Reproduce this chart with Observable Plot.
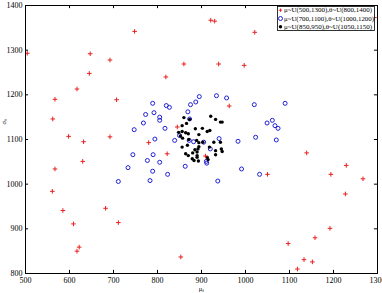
<!DOCTYPE html>
<html><head><meta charset="utf-8">
<script src="https://cdn.jsdelivr.net/npm/d3@7"></script>
<script src="https://cdn.jsdelivr.net/npm/@observablehq/plot@0.6"></script>
<style>
body{margin:0;background:#fff}
#wrap{position:relative;width:382px;height:293px;font-family:"Liberation Serif",serif}
#legend{position:absolute;left:277px;top:6px}
</style>
</head><body><div id="wrap"></div>
<script>
const xTicks = [500, 600, 700, 800, 900, 1000, 1100, 1200, 1300];
const yTicks = [800, 900, 1000, 1100, 1200, 1300, 1400];
const xLabel = "μₛ";
const yLabel = "σₛ";
const legendLabels = ["μ~U(500,1300),θ~U(800,1400)", "μ~U(700,1100),θ~U(1000,1200)", "μ~U(850,950),θ~U(1050,1150)"];

const seriesRed = [[504,1293],[748,1342],[647,1292],[692,1278],[645,1248],[617,1213],[567,1190],[707,1189],[562,1146],[598,1107],[692,1106],[632,1095],[630,1051],[567,1034],[561,984],[585,941],[682,946],[609,911],[711,914],[622,859],[617,850],[921,1367],[930,1365],[1021,1340],[860,1269],[939,1269],[997,1266],[819,1240],[963,1175],[845,1128],[780,1093],[822,1068],[909,1063],[853,837],[1139,1070],[1229,1042],[1050,1022],[1194,1022],[1267,1012],[1227,978],[1192,901],[1158,880],[1097,867],[1133,831],[1152,826],[1118,810],[1293,1373]];

const seriesBlue = [[747,1122],[744,1066],[733,1037],[711,1006],[895,1196],[934,1198],[957,1193],[789,1181],[820,1176],[827,1172],[887,1184],[875,1178],[1020,1178],[869,1162],[773,1156],[792,1160],[805,1150],[805,1143],[768,1137],[873,1146],[817,1125],[794,1101],[839,1098],[872,1098],[940,1102],[983,1096],[1023,1105],[882,1095],[920,1079],[850,1109],[905,1094],[911,1051],[790,1066],[777,1053],[805,1049],[863,1040],[912,1047],[991,1034],[789,1029],[823,1022],[783,1008],[937,1007],[1032,1022],[1090,1181],[1061,1143],[1049,1137],[1067,1131],[1074,1125],[1070,1099]];

const seriesBlack = [[860,1149],[873,1145],[866,1136],[856,1131],[921,1152],[932,1145],[943,1139],[947,1139],[886,1124],[902,1125],[913,1118],[919,1120],[848,1116],[856,1118],[864,1115],[870,1113],[852,1108],[857,1103],[871,1100],[894,1111],[889,1098],[894,1093],[903,1094],[928,1094],[943,1094],[856,1083],[868,1087],[894,1084],[918,1083],[885,1077],[892,1079],[932,1075],[945,1079],[947,1073],[864,1068],[880,1070],[890,1072],[890,1064],[870,1064],[932,1066],[879,1057],[890,1060],[913,1060],[915,1055],[883,1053],[893,1052]];

const RED = "#e82020", BLUE = "#2020d8", BLACK = "#000";

const plot = Plot.plot({
  width: 382, height: 293,
  marginLeft: 25, marginRight: 5, marginTop: 5, marginBottom: 20,
  style: {fontFamily: "'Liberation Serif', serif", fontSize: "8px", background: "white", color: "black", overflow: "visible"},
  x: {domain: [500, 1300], label: null},
  y: {domain: [800, 1400], label: null},
  marks: [
    Plot.axisX(xTicks, {anchor: "bottom", tickSize: 0, tickPadding: 4, tickFormat: "d", label: null}),
    Plot.axisY(yTicks, {anchor: "left", tickSize: 0, tickPadding: 3, tickFormat: "d", label: null}),
    Plot.ruleX(xTicks, {x: d => d, y1: 800, y2: 807, stroke: "black"}),
    Plot.ruleX(xTicks, {x: d => d, y1: 1400, y2: 1393, stroke: "black"}),
    Plot.ruleY(yTicks, {y: d => d, x1: 500, x2: 507, stroke: "black"}),
    Plot.ruleY(yTicks, {y: d => d, x1: 1300, x2: 1293, stroke: "black"}),
    Plot.dot(seriesBlue, {x: d => d[0], y: d => d[1], r: 2, stroke: BLUE, strokeWidth: 1}),
    Plot.dot(seriesBlack, {x: d => d[0], y: d => d[1], r: 1.7, fill: BLACK, stroke: null}),
    Plot.dot(seriesRed, {x: d => d[0], y: d => d[1], symbol: "plus", r: 1.6, stroke: RED, strokeWidth: 1}),
    Plot.frame({stroke: "black"}),
    Plot.text([xLabel], {frameAnchor: "bottom", dy: 17, fontSize: 6.5}),
    Plot.text([yLabel], {frameAnchor: "left", dx: -22, dy: -15, rotate: -90, fontSize: 6.5})
  ]
});
document.getElementById("wrap").appendChild(plot);

// legend overlay
const lw = 98, lh = 25;
const lg = d3.select("#wrap").append("svg").attr("id", "legend").attr("width", lw).attr("height", lh);
lg.append("rect").attr("x", 0.5).attr("y", 0.5).attr("width", lw - 1).attr("height", lh - 1).attr("fill", "white").attr("stroke", "black").attr("stroke-width", 0.8);
const rowY = [4.2, 12.5, 20.8];
const markers = [
  g => g.append("path").attr("d", "M-1.6,0H1.6M0,-1.6V1.6").attr("stroke", RED).attr("stroke-width", 1),
  g => g.append("circle").attr("r", 2).attr("fill", "none").attr("stroke", BLUE).attr("stroke-width", 1),
  g => g.append("circle").attr("r", 1.7).attr("fill", BLACK)
];
legendLabels.forEach((t, i) => {
  const g = lg.append("g").attr("transform", `translate(3.5,${rowY[i]})`);
  markers[i](g);
  lg.append("text").attr("x", 7).attr("y", rowY[i]).attr("dy", "0.34em")
    .attr("font-family", "'Liberation Serif', serif").attr("font-size", 6.3)
    .attr("textLength", i === 1 ? 90 : 88).attr("lengthAdjust", "spacingAndGlyphs").text(t);
});
</script>
</body></html>
